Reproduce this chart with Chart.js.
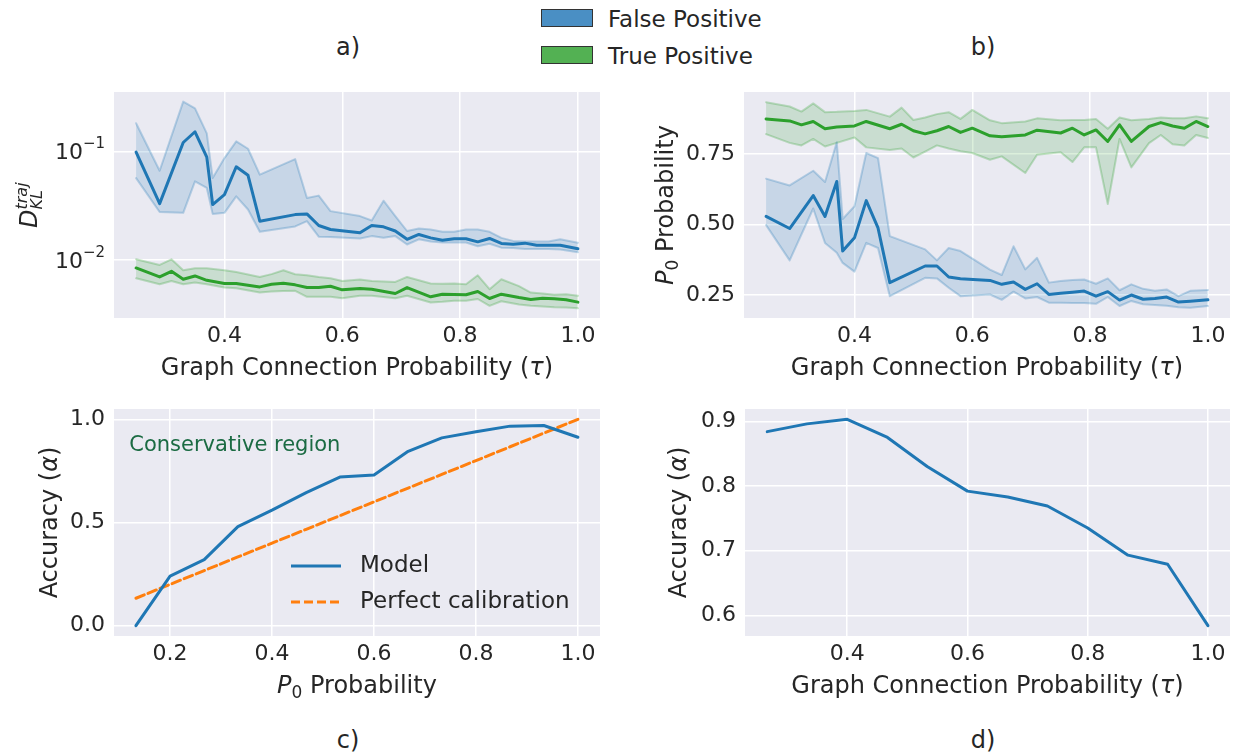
<!DOCTYPE html>
<html><head><meta charset="utf-8">
<script src="https://cdn.jsdelivr.net/npm/chart.js@4.4.1/dist/chart.umd.min.js"></script>
<style>
html,body{margin:0;padding:0;background:#fff;}
body{width:1236px;height:753px;position:relative;overflow:hidden;font-family:"DejaVu Sans",sans-serif;color:#262626;}
canvas{position:absolute;}
.lbl{position:absolute;font-size:24px;transform:translate(-50%,-50%);white-space:nowrap;}
.legbox{position:absolute;left:541px;width:50px;height:16px;border:1.5px solid #333;}
.legtxt{position:absolute;left:608px;font-size:23px;transform:translateY(-50%);white-space:nowrap;}
</style></head>
<body>
<div class="lbl" style="left:348px;top:47px">a)</div>
<div class="lbl" style="left:983px;top:47px">b)</div>
<div class="lbl" style="left:348px;top:740px">c)</div>
<div class="lbl" style="left:983px;top:740px">d)</div>
<div class="legbox" style="top:9px;background:#4a8fc4"></div>
<div class="legtxt" style="top:19px">False Positive</div>
<div class="legbox" style="top:46px;background:#53b153"></div>
<div class="legtxt" style="top:56px">True Positive</div>
<canvas id="ca" width="615" height="320" style="left:0;top:80px"></canvas>
<canvas id="cb" width="606" height="320" style="left:630px;top:80px"></canvas>
<canvas id="cc" width="615" height="320" style="left:0;top:395px"></canvas>
<canvas id="cd" width="606" height="320" style="left:630px;top:395px"></canvas>
<script>
// ---------- data ----------
const fpTau = [0.25,0.29,0.33,0.35,0.37,0.38,0.40,0.42,0.44,0.46,0.52,0.54,0.56,0.58,0.63,0.65,0.67,0.69,0.71,0.73,0.75,0.77,0.79,0.81,0.83,0.85,0.87,0.89,0.91,0.93,0.95,0.97,1.00];
const fpKlMean = [0.0986,0.0331,0.121,0.152,0.0887,0.0324,0.040,0.0723,0.0603,0.0228,0.0262,0.0266,0.0208,0.0191,0.0178,0.0208,0.0202,0.0185,0.0155,0.0172,0.016,0.0152,0.0157,0.0157,0.0147,0.0158,0.0142,0.014,0.0143,0.0137,0.0137,0.0137,0.0127];
const fpKlHigh = [0.182,0.0665,0.288,0.25,0.147,0.0569,0.0869,0.124,0.106,0.0611,0.0851,0.0373,0.0392,0.0282,0.0254,0.0231,0.0352,0.0254,0.0185,0.0195,0.0191,0.0182,0.0182,0.0191,0.0191,0.0182,0.016,0.015,0.0148,0.0148,0.0148,0.0155,0.0144];
const fpKlLow = [0.0569,0.0277,0.0272,0.0531,0.0461,0.0266,0.0272,0.0386,0.0292,0.0182,0.0204,0.0228,0.0164,0.0163,0.0158,0.0166,0.016,0.0166,0.0139,0.0155,0.0148,0.0145,0.0145,0.0145,0.0134,0.0141,0.013,0.0129,0.0126,0.0126,0.0126,0.0125,0.0118];

const tpTau = [0.25,0.29,0.31,0.33,0.35,0.37,0.40,0.42,0.46,0.48,0.50,0.52,0.54,0.56,0.58,0.60,0.63,0.65,0.69,0.71,0.75,0.77,0.79,0.81,0.83,0.85,0.87,0.90,0.92,0.94,0.96,0.98,1.00];
const tpKlMean = [0.00845,0.00698,0.00787,0.00665,0.00713,0.0065,0.00607,0.00607,0.00565,0.00598,0.00611,0.0059,0.00557,0.00557,0.00573,0.00531,0.00546,0.00538,0.00491,0.00557,0.00458,0.00484,0.00481,0.00478,0.00512,0.00442,0.00484,0.00451,0.00433,0.00445,0.00439,0.0043,0.00409];
const tpKlHigh = [0.01014,0.009,0.01014,0.00804,0.0084,0.0084,0.00804,0.00776,0.00698,0.00741,0.00804,0.0074,0.00724,0.00698,0.00679,0.00641,0.00661,0.00641,0.00628,0.00698,0.00607,0.00603,0.00607,0.00598,0.00723,0.00538,0.00665,0.00575,0.00501,0.0049,0.00479,0.00484,0.00468];
const tpKlLow = [0.00679,0.00598,0.00641,0.00598,0.0062,0.00598,0.00557,0.0055,0.00501,0.00513,0.00519,0.0052,0.00458,0.00458,0.00458,0.00445,0.00468,0.00468,0.00445,0.00468,0.00406,0.00412,0.00421,0.00421,0.00437,0.00378,0.00417,0.00389,0.00378,0.00372,0.00367,0.00365,0.0036];

const fpP0Mean = [0.529,0.486,0.603,0.529,0.653,0.406,0.453,0.585,0.488,0.294,0.353,0.353,0.314,0.308,0.302,0.288,0.296,0.27,0.29,0.252,0.256,0.26,0.264,0.246,0.262,0.232,0.25,0.235,0.238,0.243,0.225,0.228,0.233];
const fpP0High = [0.663,0.639,0.691,0.651,0.792,0.52,0.565,0.754,0.736,0.459,0.412,0.373,0.417,0.406,0.34,0.321,0.423,0.341,0.382,0.294,0.30,0.303,0.305,0.29,0.309,0.267,0.288,0.272,0.265,0.27,0.246,0.265,0.268];
const fpP0Low = [0.498,0.373,0.557,0.435,0.40,0.364,0.333,0.435,0.417,0.246,0.311,0.309,0.276,0.246,0.252,0.233,0.262,0.238,0.243,0.223,0.223,0.222,0.222,0.219,0.243,0.211,0.229,0.217,0.215,0.212,0.207,0.205,0.211];

const tpP0Mean = [0.875,0.868,0.854,0.866,0.84,0.846,0.85,0.866,0.84,0.856,0.833,0.822,0.833,0.848,0.827,0.842,0.815,0.812,0.818,0.835,0.825,0.842,0.818,0.836,0.795,0.854,0.795,0.848,0.862,0.85,0.842,0.866,0.848];
const tpP0High = [0.934,0.919,0.901,0.93,0.899,0.90,0.903,0.907,0.883,0.915,0.871,0.88,0.892,0.899,0.875,0.907,0.87,0.86,0.866,0.877,0.87,0.871,0.871,0.875,0.84,0.88,0.87,0.875,0.88,0.877,0.877,0.884,0.877];
const tpP0Low = [0.821,0.79,0.781,0.804,0.777,0.79,0.809,0.774,0.765,0.77,0.738,0.759,0.781,0.77,0.76,0.754,0.73,0.742,0.683,0.748,0.757,0.722,0.774,0.774,0.573,0.804,0.703,0.789,0.818,0.785,0.781,0.818,0.807];

const calibBins = [0.133,0.2,0.267,0.333,0.4,0.467,0.533,0.6,0.667,0.733,0.8,0.867,0.933,1.0];
const calibModel = [0.0,0.24,0.32,0.48,0.56,0.645,0.72,0.73,0.845,0.91,0.94,0.967,0.97,0.913];
const calibPerfect = [0.133,0.2,0.267,0.333,0.4,0.467,0.533,0.6,0.667,0.733,0.8,0.867,0.933,1.0];

const accTau = [0.267,0.333,0.4,0.467,0.533,0.6,0.667,0.733,0.8,0.867,0.933,1.0];
const accVals = [0.884,0.896,0.903,0.875,0.830,0.792,0.783,0.769,0.735,0.693,0.679,0.584];

const tauTicks = [0.4,0.6,0.8,1.0];
const p0Ticks = [0.2,0.4,0.6,0.8,1.0];
const klTicks = [0.01,0.1];
const klTickExp = ['−2','−1'];
const probTicks = [0.25,0.5,0.75];
const calibYTicks = [0.0,0.5,1.0];
const accYTicks = [0.6,0.7,0.8,0.9];

// ---------- style ----------
const FONT = '"DejaVu Sans", sans-serif';
const TEXT = '#262626';
const BLUE = '#1f77b4', GREEN = '#2ca02c', ORANGE = '#ff7f0e';
const BLUE_RGB = '31,119,180', GREEN_RGB = '44,160,44';

function segFont(s){ return (s.it ? 'italic ' : '') + s.sz + 'px ' + FONT; }
// mode: 'center' (centre on point), 'start' (begin at point), 'end' (finish at point)
function drawRich(ctx, segs, x, y, rot, mode){
  ctx.save();
  const w = segs.map(s => { ctx.font = segFont(s); return ctx.measureText(s.t).width; });
  let total = 0;
  segs.forEach((s,i)=>{ if(!s.noAdv) total += w[i]; });
  ctx.translate(x, y);
  if (rot) ctx.rotate(-Math.PI/2);
  ctx.fillStyle = TEXT; ctx.textBaseline = 'alphabetic'; ctx.textAlign = 'left';
  let cx = mode === 'center' ? -total/2 : (mode === 'end' ? -total : 0);
  segs.forEach((s,i)=>{ ctx.font = segFont(s); ctx.fillText(s.t, cx, s.dy || 0); if(!s.noAdv) cx += w[i]; });
  ctx.restore();
}

const tauTitle = [{t:'Graph Connection Probability (',sz:24},{t:'τ',sz:24,it:true},{t:')',sz:24}];
const p0Title = [{t:'P',sz:24,it:true},{t:'0',sz:17,dy:5},{t:' Probability',sz:24}];
const accTitle = [{t:'Accuracy (',sz:24},{t:'α',sz:24,it:true},{t:')',sz:24}];
const klTitle = [{t:'D',sz:24,it:true},{t:'traj',sz:16,it:true,dy:-10,noAdv:true},{t:'KL',sz:16,it:true,dy:5}];

function makePlugins(cfg){
  return [{
    id:'decor',
    beforeDraw(chart){
      const {ctx, chartArea:a} = chart;
      ctx.save(); ctx.fillStyle = '#eaeaf2';
      ctx.fillRect(a.left, a.top, a.right-a.left, a.bottom-a.top); ctx.restore();
    },
    afterDraw(chart){
      const {ctx, chartArea:a} = chart;
      const cxm = (a.left + a.right)/2, cym = (a.top + a.bottom)/2;
      drawRich(ctx, cfg.xTitle, cxm, a.bottom + cfg.xTitleGap, false, 'center');
      if (cfg.yTitleMode === 'start') drawRich(ctx, cfg.yTitle, cfg.yTitleX, cfg.yTitleStart, true, 'start');
      else drawRich(ctx, cfg.yTitle, cfg.yTitleX, cym, true, 'center');
      if (cfg.extra) cfg.extra(chart);
    }
  }];
}

function pts(xs, ys){ return xs.map((x,i)=>({x:x, y:ys[i]})); }
function band(xs, low, mean, high, col, rgb, label){
  return [
    {label:label+' low', data:pts(xs,low), borderColor:`rgba(${rgb},0.27)`, borderWidth:2, pointRadius:0, fill:false, order:3},
    {label:label+' high', data:pts(xs,high), borderColor:`rgba(${rgb},0.27)`, borderWidth:2, pointRadius:0, fill:'-1', backgroundColor:`rgba(${rgb},0.17)`, order:3},
    {label:label, data:pts(xs,mean), borderColor:col, borderWidth:3, pointRadius:0, fill:false, order:1}
  ];
}

function options(o){
  return {
    responsive:false, animation:false, events:[],
    layout:{padding:o.pad},
    plugins:{legend:{display:false}, tooltip:{enabled:false}},
    elements:{line:{tension:0, borderJoinStyle:'round', borderCapStyle:'round'}},
    scales:{
      x:{type:'linear', min:o.xMin, max:o.xMax, bounds:'data',
        afterBuildTicks:s=>{ s.ticks = o.xTicks.map(v=>({value:v})); },
        afterFit:s=>{ s.height = o.hx; s.paddingLeft = 0; s.paddingRight = 0; },
        grid:{color:'#ffffff', lineWidth:1.5, drawTicks:false},
        border:{display:false},
        ticks:{padding:5, color:TEXT, font:{family:FONT, size:22}, maxRotation:0, autoSkip:false,
          callback:v=>Number(v).toFixed(1)}},
      y:{type:o.yType||'linear', min:o.yMin, max:o.yMax, bounds:'data',
        afterBuildTicks:s=>{ s.ticks = o.yTicks.map(v=>({value:v})); },
        afterFit:s=>{ s.width = o.yw; s.paddingTop = 0; s.paddingBottom = 0; },
        grid:{color:'#ffffff', lineWidth:1.5, drawTicks:false},
        border:{display:false},
        ticks:{display:o.yTickDisplay !== false, padding:9, color:TEXT, font:{family:FONT, size:22}, autoSkip:false, callback:o.yFmt}}
    }
  };
}

// ---------- a) ----------
new Chart(document.getElementById('ca'), {
  type:'line',
  data:{datasets:[...band(fpTau,fpKlLow,fpKlMean,fpKlHigh,BLUE,BLUE_RGB,'False Positive'),
                  ...band(tpTau,tpKlLow,tpKlMean,tpKlHigh,GREEN,GREEN_RGB,'True Positive')]},
  options:options({pad:{left:0,right:15,top:12,bottom:0}, xMin:0.2125, xMax:1.0375, xTicks:tauTicks, hx:82,
    yType:'logarithmic', yMin:0.00292, yMax:0.3534, yTicks:klTicks, yw:114, yTickDisplay:false}),
  plugins:makePlugins({xTitle:tauTitle, xTitleGap:57, yTitle:klTitle, yTitleMode:'start', yTitleX:37, yTitleStart:148,
    extra(chart){
      const {ctx, scales, chartArea:a} = chart;
      klTicks.forEach((v,i)=>{
        const y = scales.y.getPixelForValue(v);
        ctx.save(); ctx.translate(a.left - 9, y);
        drawRich(ctx, [{t:'10',sz:22,dy:8},{t:klTickExp[i],sz:15,dy:-3}], 0, 0, false, 'end');
        ctx.restore();
      });
    }})
});

// ---------- b) ----------
new Chart(document.getElementById('cb'), {
  type:'line',
  data:{datasets:[...band(fpTau,fpP0Low,fpP0Mean,fpP0High,BLUE,BLUE_RGB,'False Positive'),
                  ...band(tpTau,tpP0Low,tpP0Mean,tpP0High,GREEN,GREEN_RGB,'True Positive')]},
  options:options({pad:{left:0,right:6,top:12,bottom:0}, xMin:0.2125, xMax:1.0375, xTicks:tauTicks, hx:82,
    yMin:0.1685, yMax:0.9705, yTicks:probTicks, yw:114, yFmt:v=>Number(v).toFixed(2)}),
  plugins:makePlugins({xTitle:tauTitle, xTitleGap:57, yTitle:p0Title, yTitleX:43})
});

// ---------- c) ----------
new Chart(document.getElementById('cc'), {
  type:'line',
  data:{datasets:[
    {label:'Model', data:pts(calibBins,calibModel), borderColor:BLUE, borderWidth:3, pointRadius:0, fill:false, order:1},
    {label:'Perfect calibration', data:pts(calibBins,calibPerfect), borderColor:ORANGE, borderWidth:3, borderDash:[9,4], pointRadius:0, fill:false, order:2}
  ]},
  options:options({pad:{left:0,right:15,top:14,bottom:0}, xMin:0.09, xMax:1.0433, xTicks:p0Ticks, hx:79,
    yMin:-0.05, yMax:1.05, yTicks:calibYTicks, yw:114, yFmt:v=>Number(v).toFixed(1)}),
  plugins:makePlugins({xTitle:p0Title, xTitleGap:57, yTitle:accTitle, yTitleX:57,
    extra(chart){
      const {ctx, scales} = chart;
      ctx.save();
      ctx.font = '21px ' + FONT; ctx.fillStyle = '#1b6b43'; ctx.textBaseline = 'middle'; ctx.textAlign = 'left';
      ctx.fillText('Conservative region', scales.x.getPixelForValue(0.12), scales.y.getPixelForValue(0.875));
      const ds = chart.data.datasets;
      const rows = [171, 207];
      ds.forEach((d,i)=>{
        ctx.beginPath(); ctx.strokeStyle = d.borderColor; ctx.lineWidth = 3;
        ctx.setLineDash(d.borderDash || []);
        ctx.moveTo(291, rows[i]); ctx.lineTo(341, rows[i]); ctx.stroke();
        ctx.setLineDash([]);
        ctx.font = '23px ' + FONT; ctx.fillStyle = TEXT; ctx.textBaseline = 'middle';
        ctx.fillText(d.label, 360, rows[i]);
      });
      ctx.restore();
    }})
});

// ---------- d) ----------
new Chart(document.getElementById('cd'), {
  type:'line',
  data:{datasets:[
    {label:'Accuracy', data:pts(accTau,accVals), borderColor:BLUE, borderWidth:3, pointRadius:0, fill:false}
  ]},
  options:options({pad:{left:0,right:6,top:14,bottom:0}, xMin:0.23, xMax:1.0367, xTicks:tauTicks, hx:79,
    yMin:0.568, yMax:0.919, yTicks:accYTicks, yw:115, yFmt:v=>Number(v).toFixed(1)}),
  plugins:makePlugins({xTitle:tauTitle, xTitleGap:57, yTitle:accTitle, yTitleX:56})
});
</script>
</body></html>
